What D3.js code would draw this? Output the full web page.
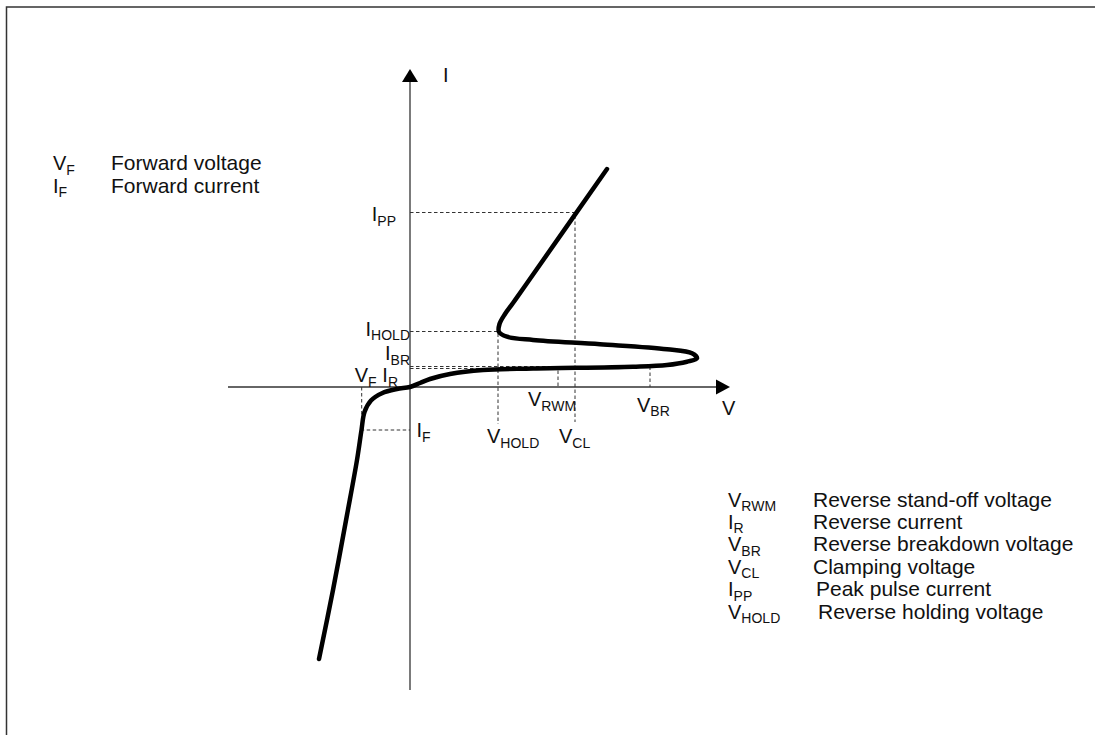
<!DOCTYPE html>
<meta charset="utf-8">
<style>
body { margin: 0; background: #fff; }
svg { display: block; font-family: "Liberation Sans", Arial, sans-serif; }
.frame { fill: none; stroke: #333; stroke-width: 1.5px; }
.axis line { stroke: #333; stroke-width: 1.3px; }
.arrow { fill: #000; }
.guide { stroke: #333; stroke-width: 1px; stroke-dasharray: 3.5,2.5; fill: none; }
.curve { fill: none; stroke: #000; stroke-width: 4.5px; stroke-linecap: round; stroke-linejoin: round; }
text { fill: #111; font-size: 20px; }
.sub { font-size: 14px; }
.desc { font-size: 21px; }
</style>
<svg width="1095" height="735" id="chart"></svg>
<script src="https://d3js.org/d3.v7.min.js"></script>
<script>
// I-V characteristic, [V, I] in drawing units (forward branch -> origin -> snapback -> clamp)
var curve = [
  [-9.1, -27.2], [-7.7, -20.3], [-6.3, -12.8], [-5.3, -7.3], [-4.85, -4.3],
  [-4.55, -2.5], [-3.9, -1.35], [-2.8, -0.62], [-1.3, -0.2], [0, 0],
  [1.0, 0.4], [2.0, 0.8], [4.0, 1.3], [7.3, 1.7], [12.3, 1.85],
  [22.3, 2.03], [25.7, 2.2], [27.7, 2.53], [28.7, 2.87], [28.2, 3.37],
  [25.7, 3.77], [19.0, 4.27], [12.3, 4.7], [9.7, 5.03], [8.9, 5.5],
  [8.95, 6.3], [9.5, 7.3], [10.3, 8.4], [11.5, 10.1], [19.7, 21.8]
];

// characteristic points
var VF = -4.83, IF = -4.3;
var VRWM = 14.8, IR = 1.85;
var VBR = 24.0, IBR = 2.05;
var VHOLD = 8.8, IHOLD = 5.55;
var VCL = 16.5, IPP = 17.45;

// axis extents
var vDomain = [-18.2, 32.0];
var iDomain = [-30.3, 31.8];

// legends: symbol, subscript, description
var leftLegend = [
  ["V", "F", "Forward voltage"],
  ["I", "F", "Forward current"]
];
var rightLegend = [
  ["V", "RWM", "Reverse stand-off voltage"],
  ["I", "R", "Reverse current"],
  ["V", "BR", "Reverse breakdown voltage"],
  ["V", "CL", "Clamping voltage"],
  ["I", "PP", "Peak pulse current"],
  ["V", "HOLD", "Reverse holding voltage"]
];

var svg = d3.select("#chart");

var x = d3.scaleLinear().domain(vDomain).range([228, 730]);
var y = d3.scaleLinear().domain(iDomain).range([690, 69]);

// frame (runs off the right and bottom of the picture)
svg.append("rect").attr("class", "frame")
  .attr("x", 6.5).attr("y", 7).attr("width", 1200).attr("height", 800);

// axes
var axis = svg.append("g").attr("class", "axis");
axis.append("line")
  .attr("x1", x(vDomain[0])).attr("x2", x(vDomain[1]) - 14)
  .attr("y1", y(0)).attr("y2", y(0));
axis.append("line")
  .attr("x1", x(0)).attr("x2", x(0))
  .attr("y1", y(iDomain[0])).attr("y2", y(iDomain[1]) + 13);

var xt = x(vDomain[1]), yt = y(iDomain[1]);
svg.append("path").attr("class", "arrow")
  .attr("d", "M" + xt + "," + y(0) + "L" + (xt - 14) + "," + (y(0) - 7.5) + "L" + (xt - 14) + "," + (y(0) + 7.5) + "Z");
svg.append("path").attr("class", "arrow")
  .attr("d", "M" + x(0) + "," + yt + "L" + (x(0) - 8) + "," + (yt + 13) + "L" + (x(0) + 8) + "," + (yt + 13) + "Z");

// dashed guide lines
var tail = y(0) + 37; // how far the V_HOLD / V_CL guides drop below the axis
var guides = [
  [[VF, 0], [VF, IF], [0, IF]],
  [[0, IR], [VRWM, IR], [VRWM, 0]],
  [[0, IBR], [VBR, IBR], [VBR, 0]],
  [[0, IHOLD], [VHOLD, IHOLD], [VHOLD, y.invert(tail)]],
  [[0, IPP], [VCL, IPP], [VCL, y.invert(tail - 2)]]
];
var gline = d3.line().x(function(d) { return x(d[0]); }).y(function(d) { return y(d[1]); });
svg.append("g").selectAll("path")
  .data(guides)
  .enter().append("path")
    .attr("class", "guide")
    .attr("d", gline);

// the curve itself
var line = d3.line()
  .x(function(d) { return x(d[0]); })
  .y(function(d) { return y(d[1]); })
  .curve(d3.curveCatmullRom.alpha(0.5));
svg.append("path").datum(curve).attr("class", "curve").attr("d", line);

// label with subscript
function label(g, px, py, main, sub, anchor) {
  var t = g.append("text").attr("x", px).attr("y", py).attr("text-anchor", anchor || "start");
  t.append("tspan").text(main);
  if (sub) t.append("tspan").attr("class", "sub").attr("dy", 4.5).text(sub);
  return t;
}

var lab = svg.append("g");
label(lab, x(0) + 33, yt + 13, "I");
label(lab, xt - 8, y(0) + 28, "V");
label(lab, x(0) - 14, y(IPP) + 8.5, "I", "PP", "end");
label(lab, x(0), y(IHOLD) + 4, "I", "HOLD", "end");
label(lab, x(0), y(IBR) - 6.5, "I", "BR", "end");
label(lab, x(0) - 12, y(0) - 5, "I", "R", "end");
label(lab, x(VF) - 7, y(0) - 5, "V", "F");
label(lab, x(0) + 6.5, y(IF) + 7, "I", "F");
label(lab, x(VRWM) - 30, y(0) + 19, "V", "RWM");
label(lab, x(VBR) - 13, y(0) + 24.5, "V", "BR");
label(lab, x(VHOLD) - 11, y(0) + 56, "V", "HOLD");
label(lab, x(VCL) - 16, y(0) + 56, "V", "CL");

// legends
var lg = svg.append("g");
leftLegend.forEach(function(d, i) {
  var by = 170 + i * 22.5;
  label(lg, 53, by, d[0], d[1]);
  lg.append("text").attr("class", "desc").attr("x", 111).attr("y", by).text(d[2]);
});

var rg = svg.append("g");
rightLegend.forEach(function(d, i) {
  var by = 506.5 + i * 22.4;
  label(rg, 728, by, d[0], d[1]);
  rg.append("text").attr("class", "desc").attr("x", i < 4 ? 813 : 816 + (i - 4) * 2).attr("y", by).text(d[2]);
});
</script>
